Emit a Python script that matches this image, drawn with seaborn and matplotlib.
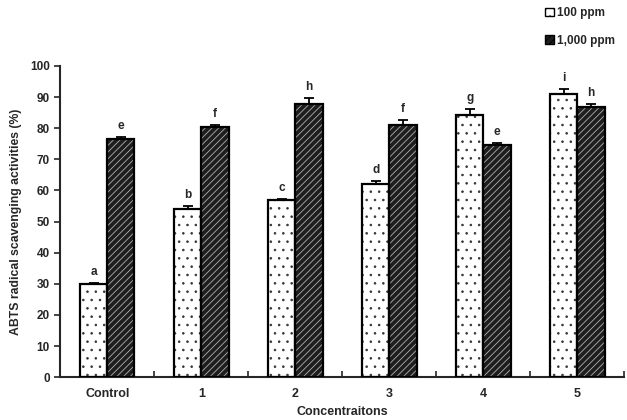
import numpy as np
import pandas as pd
import seaborn as sns
import matplotlib.pyplot as plt
from matplotlib.patches import Patch

# values
concs = ['Control', '1', '2', '3', '4', '5']
ppm100 = [30.0, 54.0, 57.0, 62.0, 84.3, 91.0]
ppm1000 = [76.5, 80.3, 87.7, 81.0, 74.6, 86.7]
err100 = [0.3, 1.0, 0.4, 1.0, 2.0, 1.7]
err1000 = [0.7, 0.7, 2.0, 1.6, 0.8, 1.0]
letters100 = ['a', 'b', 'c', 'd', 'g', 'i']
letters1000 = ['e', 'f', 'h', 'f', 'e', 'h']
doses = ['100 ppm', '1,000 ppm']

sns.set_style('ticks')
plt.rcParams['font.family'] = ['Liberation Sans', 'DejaVu Sans']
plt.rcParams['font.weight'] = 'bold'
plt.rcParams['hatch.linewidth'] = 0.6

df = pd.DataFrame({
    'conc': concs * 2,
    'value': ppm100 + ppm1000,
    'dose': [doses[0]] * 6 + [doses[1]] * 6,
})

fig = plt.figure(figsize=(6.27, 4.2), dpi=100)
ax = fig.add_axes([0.096, 0.102, 0.9, 0.741])

sns.barplot(data=df, x='conc', y='value', hue='dose', palette=['white', '#1e1e1e'],
            width=0.58, gap=0, errorbar=None, linewidth=0, legend=False, ax=ax)

hatches = ['..', '/////']
hcols = ['#333333', '#b0b0b0']
errs = [err100, err1000]
labs = [letters100, letters1000]
bar_groups = list(ax.containers)
for i, cont in enumerate(bar_groups):
    for j, p in enumerate(cont.patches):
        p.set_hatch(hatches[i])
        p.set_edgecolor(hcols[i])
        p.set_linewidth(0)
        ax.add_patch(plt.Rectangle(p.get_xy(), p.get_width(), p.get_height(),
                                   fill=False, ec='black', lw=1.6, zorder=3))
        xc = p.get_x() + p.get_width() / 2
        h = p.get_height()
        ax.errorbar(xc, h, yerr=[[0], [errs[i][j]]], fmt='none', ecolor='black',
                    elinewidth=1.3, capsize=3.5, capthick=1.3, zorder=4)
        ax.text(xc, h + errs[i][j] + 1.6, labs[i][j], ha='center', va='bottom',
                fontsize=8.5, fontweight='bold')

# legend above the plot on the right
handles = [Patch(facecolor='white', edgecolor='black', hatch='..', lw=1),
           Patch(facecolor='#1e1e1e', edgecolor='black', hatch='/////', lw=1)]
fig.legend(handles, doses, loc='upper left', bbox_to_anchor=(0.853, 1.008),
           frameon=False, fontsize=8.5, handlelength=0.7, handleheight=0.7,
           handletextpad=0.25, labelspacing=1.3)

ax.set_ylim(0, 100)
ax.set_yticks(np.arange(0, 101, 10))
ax.set_xlim(-0.5, 5.5)
ax.set_xticks(np.arange(-0.5, 6, 1), minor=True)
ax.tick_params(axis='x', which='major', length=0, pad=8, labelsize=9)
ax.tick_params(axis='x', which='minor', direction='in', length=4, width=1.2)
ax.tick_params(axis='y', direction='out', length=4, width=1.2, labelsize=8.5)
for s in ['left', 'bottom']:
    ax.spines[s].set_linewidth(1.5)
sns.despine(ax=ax)

ax.set_xlabel('Concentraitons', fontsize=9, fontweight='bold', labelpad=4)
ax.set_ylabel('ABTS radical scavenging activities (%)', fontsize=8.8, fontweight='bold', labelpad=6)

plt.savefig('out.png', dpi=100)
